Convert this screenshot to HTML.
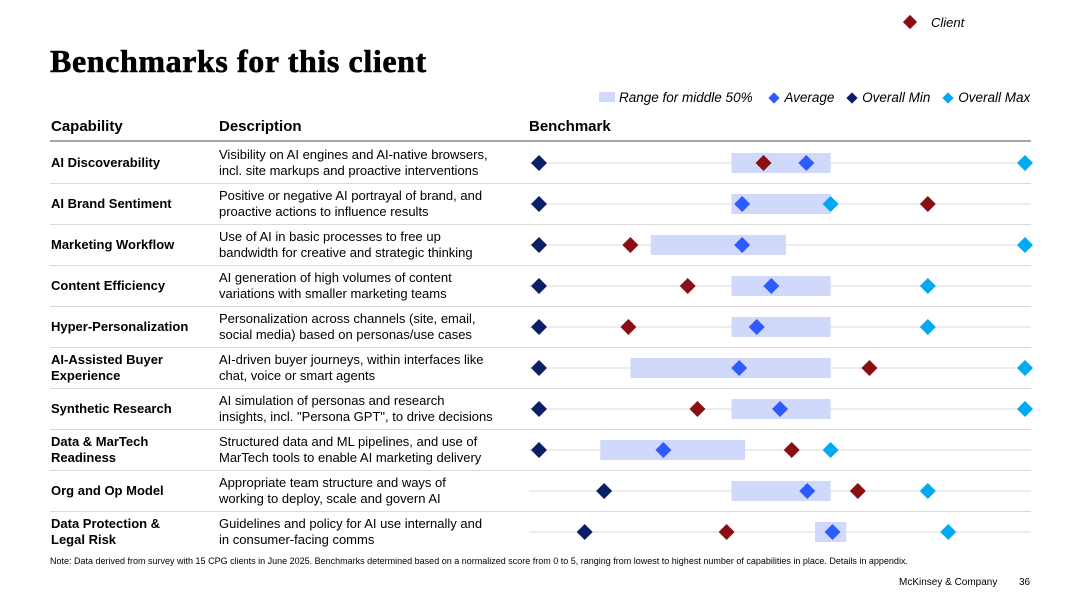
<!DOCTYPE html>
<html><head><meta charset="utf-8"><style>
body{margin:0;width:1080px;height:608px;background:#fff;position:relative;overflow:hidden;font-family:"Liberation Sans",Arial,sans-serif;color:#000}
.abs{position:absolute}
.title{left:50px;top:43px;font-family:"Liberation Serif",serif;font-weight:900;font-size:32px;letter-spacing:0.6px;-webkit-text-stroke:0.6px #000}
.hdr{top:118px;font-weight:bold;font-size:15px}
.cap{left:51px;font-weight:bold;font-size:13px;line-height:16px}
.desc{left:219px;font-size:13px;line-height:16px}
.leg{font-style:italic;font-size:13.5px;top:90px}
.note{left:50px;top:556px;font-size:9px}
</style></head><body>
<div class="abs" style="left:905px;top:15px;font-size:13px;font-style:italic"><span style="display:inline-block;width:10px;height:10px;background:#8b0e12;transform:rotate(45deg);margin-right:16px"></span>Client</div>
<div class="abs title">Benchmarks for this client</div>
<div class="abs leg" style="left:599px">
<span><span style="display:inline-block;width:16px;height:10px;background:#d0d9fb;margin-right:4px"></span>Range for middle 50%</span>
<span style="margin-left:14px"><span style="display:inline-block;width:8px;height:8px;background:#2e5bff;transform:rotate(45deg);margin-right:6px"></span>Average</span>
<span style="margin-left:10px"><span style="display:inline-block;width:8px;height:8px;background:#0a1f66;transform:rotate(45deg);margin-right:6px"></span>Overall Min</span>
<span style="margin-left:10px"><span style="display:inline-block;width:8px;height:8px;background:#00a9f4;transform:rotate(45deg);margin-right:6px"></span>Overall Max</span>
</div>
<div class="abs hdr" style="left:51px">Capability</div>
<div class="abs hdr" style="left:219px">Description</div>
<div class="abs hdr" style="left:529px">Benchmark</div>
<svg id="chart" class="abs" style="left:0;top:0" width="1080" height="608"></svg>
<div id="rows"></div>
<div class="abs note">Note: Data derived from survey with 15 CPG clients in June 2025. Benchmarks determined based on a normalized score from 0 to 5, ranging from lowest to highest number of capabilities in place. Details in appendix.</div>
<div class="abs" style="left:899px;top:577px;font-size:10px">McKinsey &amp; Company</div>
<div class="abs" style="left:1019px;top:577px;font-size:10px">36</div>
<script>
const capabilities=["AI Discoverability","AI Brand Sentiment","Marketing Workflow","Content Efficiency","Hyper-Personalization","AI-Assisted Buyer<br>Experience","Synthetic Research","Data &amp; MarTech<br>Readiness","Org and Op Model","Data Protection &amp;<br>Legal Risk"];
const descriptions=["Visibility on AI engines and AI-native browsers,<br>incl. site markups and proactive interventions","Positive or negative AI portrayal of brand, and<br>proactive actions to influence results","Use of AI in basic processes to free up<br>bandwidth for creative and strategic thinking","AI generation of high volumes of content<br>variations with smaller marketing teams","Personalization across channels (site, email,<br>social media) based on personas/use cases","AI-driven buyer journeys, within interfaces like<br>chat, voice or smart agents","AI simulation of personas and research<br>insights, incl. \"Persona GPT\", to drive decisions","Structured data and ML pipelines, and use of<br>MarTech tools to enable AI marketing delivery","Appropriate team structure and ways of<br>working to deploy, scale and govern AI","Guidelines and policy for AI use internally and<br>in consumer-facing comms"];
const rangeLow=[1.98,1.98,1.15,1.98,1.98,0.94,1.98,0.63,1.98,2.84];
const rangeHigh=[3.0,3.0,2.54,3.0,3.0,3.0,3.0,2.12,3.0,3.16];
const averages=[2.75,2.09,2.09,2.39,2.24,2.06,2.48,1.28,2.76,3.02];
const clientVals=[2.31,4.0,0.94,1.53,0.92,3.4,1.63,2.6,3.28,1.93];
const minVals=[0,0,0,0,0,0,0,0,0.67,0.47];
const maxVals=[5,3.0,5,4.0,4.0,5,5,3.0,4.0,4.21];
const x=v=>539+v*97.2;
const rowY=i=>163+i*41;
const NS="http://www.w3.org/2000/svg";
const svg=document.getElementById('chart');
function el(t,a){const e=document.createElementNS(NS,t);for(const k in a)e.setAttribute(k,a[k]);svg.appendChild(e);return e;}
const hl=el('line',{x1:50,x2:1031,y1:141,y2:141,stroke:'#a6a6a6','stroke-width':2});


function diamond(v,y,c,name){const cx=x(v);const d=el('polygon',{points:`${cx},${y-8} ${cx+8},${y} ${cx},${y+8} ${cx-8},${y}`,fill:c});

}
const rows=document.getElementById('rows');
capabilities.forEach((c,i)=>{
 const y=rowY(i);
 if(i<9){const s=el('line',{x1:50,x2:1031,y1:y+20.5,y2:y+20.5,stroke:'#d9d9d9','stroke-width':1});
 
 }
 const g=el('line',{x1:529,x2:1031,y1:y,y2:y,stroke:'#d9d9d9','stroke-width':1});
 
 
 const r=el('rect',{x:x(rangeLow[i]),y:y-10,width:x(rangeHigh[i])-x(rangeLow[i]),height:20,fill:'#d0d9fb'});
 
 
 diamond(minVals[i],y,'#0a1f66','min-marker');
 diamond(maxVals[i],y,'#00a9f4','max-marker');
 diamond(averages[i],y,'#2e5bff','average-marker');
 diamond(clientVals[i],y,'#8b0e12','client-marker');
 const two=c.includes('<br>');
 const a=document.createElement('div');a.className='abs cap';a.style.top=(two?y-16:y-8)+'px';a.innerHTML=c;
 
 
 rows.appendChild(a);
 const b=document.createElement('div');b.className='abs desc';b.style.top=(y-16)+'px';b.innerHTML=descriptions[i];
 
 
 rows.appendChild(b);
});
</script>
</body></html>
